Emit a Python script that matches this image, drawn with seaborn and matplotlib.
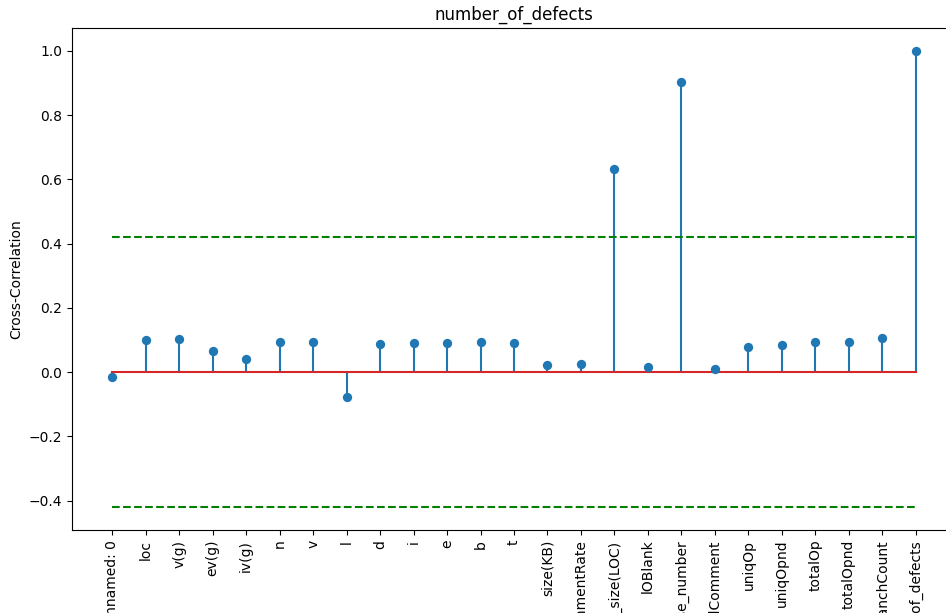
import numpy as np
import matplotlib
matplotlib.use("Agg")
import matplotlib.pyplot as plt
import seaborn as sns

labels = ["Unnamed: 0", "loc", "v(g)", "ev(g)", "iv(g)", "n", "v", "l", "d", "i",
          "e", "b", "t", "size(KB)", "commentRate", "project_size(LOC)", "lOBlank",
          "release_number", "lOCodeAndComment", "uniqOp", "uniqOpnd", "totalOp",
          "totalOpnd", "branchCount", "number_of_defects"]
values = [-0.016, 0.100, 0.103, 0.065, 0.040, 0.093, 0.093, -0.078, 0.087, 0.090,
          0.090, 0.093, 0.090, 0.022, 0.025, 0.632, 0.016, 0.903, 0.009, 0.078,
          0.084, 0.093, 0.093, 0.106, 1.000]
conf_upper = 0.42
conf_lower = -0.42
title = "number_of_defects"
ylabel = "Cross-Correlation"

plt.rcParams['font.family'] = ['DejaVu Sans']
fig = plt.figure(figsize=(9.46, 6.13), dpi=100)
ax = fig.add_axes([72 / 946, (613 - 530) / 613, 884 / 946, 502 / 613])

x = np.arange(len(labels))
vals = np.array(values)

# stems
ax.vlines(x, 0, vals, colors="C0", linewidth=1.5, zorder=2)
# baseline
ax.plot([x.min(), x.max()], [0, 0], color="C3", linewidth=1.5, zorder=3)
# markers via seaborn
sns.scatterplot(x=x, y=vals, ax=ax, color="C0", s=45, linewidth=0, zorder=4, legend=False)

# confidence lines
ax.plot([x.min(), x.max()], [conf_upper, conf_upper], color="green", linestyle="--", linewidth=1.5)
ax.plot([x.min(), x.max()], [conf_lower, conf_lower], color="green", linestyle="--", linewidth=1.5)

ax.set_xlim(-1.2, 25.2)
ax.set_ylim(-0.491, 1.071)
ax.set_yticks([-0.4, -0.2, 0.0, 0.2, 0.4, 0.6, 0.8, 1.0])
ax.set_xticks(x)
ax.set_xticklabels(labels, rotation=90)
ax.set_title(title)
ax.set_ylabel(ylabel)
ax.set_xlabel("")

fig.savefig("out.png", dpi=100)
